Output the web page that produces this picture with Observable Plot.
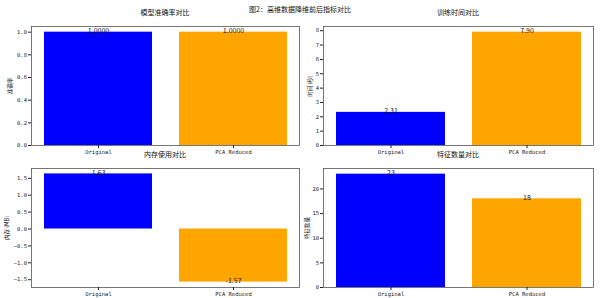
<!DOCTYPE html>
<html>
<head>
<meta charset="utf-8">
<script src="https://cdn.jsdelivr.net/npm/d3@7"></script>
<script src="https://cdn.jsdelivr.net/npm/@observablehq/plot@0.6"></script>
<style>
  html, body { margin: 0; padding: 0; background: #fff; }
  #fig { position: relative; width: 600px; height: 298px; overflow: hidden; background: #fff; }
  .panel { position: absolute; }
  .panel svg { background: transparent !important; overflow: visible; }
  .t { position: absolute; font-family: "Noto Sans CJK SC", sans-serif; color: #111; white-space: nowrap; transform: translate(-50%, -50%); line-height: 1; }
  .yl { position: absolute; font-family: "Noto Sans CJK SC", sans-serif; color: #111; white-space: nowrap; font-size: 5.5px; line-height: 1; transform: translate(-50%, -50%) rotate(-90deg); }
</style>
</head>
<body>
<div id="fig"></div>
<script>
const categories = ["Original", "PCA Reduced"];
const barColors = ["blue", "orange"];
const accuracy = [1.0, 1.0];
const trainTime = [2.31, 7.90];
const memoryUse = [1.63, -1.57];
const featureCount = [23, 18];

const suptitle = "图2：高维数据降维前后指标对比";
const panelTitles = ["模型准确率对比", "训练时间对比", "内存使用对比", "特征数量对比"];
const yLabels = ["准确率", "时间 (秒)", "内存 (MB)", "特征数量"];
const yTicks = [
  [0, 0.2, 0.4, 0.6, 0.8, 1.0],
  [0, 1, 2, 3, 4, 5, 6, 7, 8],
  [-1.5, -1.0, -0.5, 0.0, 0.5, 1.0, 1.5],
  [0, 5, 10, 15, 20]
];
const yTickFormats = [".1f", "d", ".1f", "d"];
const valueFormats = [".4f", ".2f", ".2f", "d"];
const seriesList = [accuracy, trainTime, memoryUse, featureCount];

const fig = document.getElementById("fig");

// layout of the 2x2 grid (pixel frames of each axes)
const cols = [{x0: 31, x1: 299}, {x0: 323, x1: 593}];
const rows = [{y0: 26, y1: 145, top: 0, h: 160}, {y0: 168, y1: 287, top: 148, h: 150}];

function addText(cls, txt, x, y, size) {
  const el = document.createElement("div");
  el.className = cls;
  el.textContent = txt;
  el.style.left = x + "px";
  el.style.top = y + "px";
  if (size) el.style.fontSize = size + "px";
  fig.appendChild(el);
}

seriesList.forEach((vals, i) => {
  const c = cols[i % 2], r = rows[Math.floor(i / 2)];
  const left = i % 2 === 0 ? 0 : 300;
  const data = categories.map((cat, k) => ({cat, value: vals[k], color: barColors[k]}));
  const lo = Math.min(0, d3.min(vals)), hi = Math.max(0, d3.max(vals));
  const span = hi - lo;
  const domain = [lo < 0 ? lo - 0.05 * span : 0, hi + 0.05 * span];
  const vf = d3.format(valueFormats[i]);
  const chart = Plot.plot({
    width: 300,
    height: r.h,
    marginLeft: c.x0 - left,
    marginRight: left + 300 - c.x1,
    marginTop: r.y0 - r.top,
    marginBottom: r.top + r.h - r.y1,
    style: {fontFamily: "'DejaVu Sans Mono', 'Noto Sans CJK SC', monospace", fontSize: "5.5px", color: "#222", background: "transparent"},
    x: {domain: categories, paddingInner: 0.2, paddingOuter: 0.09, label: null},
    y: {domain, label: null},
    marks: [
      Plot.barY(data, {x: "cat", y: "value", fill: "color"}),
      Plot.text(data, {x: "cat", y: "value", text: d => vf(d.value).replace("−", "-"), lineAnchor: "bottom", dy: 0.8, fontSize: 7, fontFamily: "'Noto Sans CJK SC', sans-serif", fill: "#111"}),
      Plot.frame({stroke: "#555", strokeWidth: 0.8}),
      Plot.axisX({tickSize: 3, tickPadding: 1.5, label: null}),
      Plot.axisY({ticks: yTicks[i], tickFormat: d3.format(yTickFormats[i]), tickSize: 3, tickPadding: 1.5, label: null})
    ]
  });
  const wrap = document.createElement("div");
  wrap.className = "panel";
  wrap.style.left = left + "px";
  wrap.style.top = r.top + "px";
  wrap.appendChild(chart);
  fig.appendChild(wrap);

  const cx = (c.x0 + c.x1) / 2;
  addText("t", panelTitles[i], cx, r.y0 - 14, 7);
  addText("yl", yLabels[i], (i % 2 === 0 ? 0 : 300) + (i < 2 ? 11 : 7.5), (r.y0 + r.y1) / 2, null);
});

addText("t", suptitle, 300, 9, 7);
</script>
</body>
</html>
